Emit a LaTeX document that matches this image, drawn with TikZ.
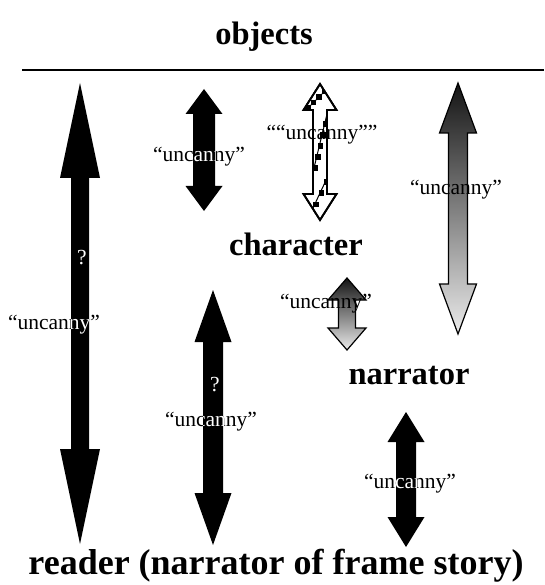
\documentclass[tikz,border=0pt]{standalone}
\usepackage{fontspec}
\setmainfont{Liberation Serif}
\begin{document}
\begin{tikzpicture}[x=1pt,y=-1pt,
  % double-headed block arrow: x, y of top tip, y of bottom tip,
  % head half-width, head length, shaft half-width
  darr/.style n args={6}{insert path={
    (#1,#2) -- ({#1+#4},{#2+#5}) -- ({#1+#6},{#2+#5}) -- ({#1+#6},{#3-#5})
    -- ({#1+#4},{#3-#5}) -- (#1,#3) -- ({#1-#4},{#3-#5}) -- ({#1-#6},{#3-#5})
    -- ({#1-#6},{#2+#5}) -- ({#1-#4},{#2+#5}) -- cycle}},
  title/.style={font=\fontsize{32.5}{36}\selectfont\bfseries, inner sep=0pt},
  lbl/.style={font=\fontsize{21.5}{24}\selectfont, inner sep=0pt},
  solidarrow/.style={fill=black},
  shadearrow/.style={draw=black, line width=1.2pt, top color=black!92, bottom color=black!8},
  checkarrow/.style={draw=black, line width=1.8pt, fill=white},
  cell/.style={fill=black},
  band/.style={line width=1pt},
]
\useasboundingbox (0,0) rectangle (544,585);

% headings
\node[title] (objects) at (264,37) {objects};
\draw[line width=1.6pt] (22,70) coordinate (ruleL) -- (544,70) coordinate (ruleR);
\node[title] (character) at (296,244) {character};
\node[title] (narrator) at (409,376) {narrator};
\node[title, font=\fontsize{36}{40}\selectfont\bfseries] (reader) at (276,566) {reader (narrator of frame story)};

% A: objects -- reader
\fill[solidarrow, darr={80}{83}{544}{20}{95}{9}];
\node[lbl] (lA) at (54,325) {“uncanny”};
\begin{scope}
  \path[clip, darr={80}{83}{544}{20}{95}{9}];
  \node[lbl, text=white] at (54,325) {“uncanny”};
  \node[lbl, text=white] (qA) at (82,258) {?};
\end{scope}

% B: objects -- character
\fill[solidarrow, darr={204}{89}{211}{18.5}{25}{11}];
\node[lbl] (lB) at (199,157) {“uncanny”};
\begin{scope}
  \path[clip, darr={204}{89}{211}{18.5}{25}{11}];
  \node[lbl, text=white] at (199,157) {“uncanny”};
\end{scope}

% C: chequered arrow
\path[checkarrow, darr={320}{84}{220}{16.5}{26}{7}];
\begin{scope}
  \path[clip, darr={320}{84}{220}{16.5}{26}{7}];
  % diagonal bands of chequer cells
  \draw[band] (304,112) -- (330,86);
  \foreach \i in {0,...,4}
    \fill[cell] ({305+\i*5.5},{111-\i*5.5}) rectangle +(5.5,-5.5);
  \draw[band] (313,172) -- (328,110);
  \foreach \i in {0,...,5}
    \fill[cell] ({312.5+\i*2.6},{171-\i*11}) rectangle +(5.5,-5.5);
  \draw[band] (313,208) -- (328,176);
  \foreach \i in {0,...,2}
    \fill[cell] ({313+\i*5.5},{207-\i*11}) rectangle +(5.5,-5.5);
\end{scope}
\path[draw=black, line width=1.8pt, darr={320}{84}{220}{16.5}{26}{7}];
\node[lbl] (lC) at (322,135) {““uncanny””};

% D: objects -- narrator (shaded)
\path[shadearrow, darr={458}{83}{334}{18.5}{50}{9.5}];
\node[lbl] (lD) at (456,190) {“uncanny”};

% E: character -- narrator (shaded)
\path[shadearrow, darr={347}{278}{350}{19}{22}{8.5}];
\node[lbl] (lE) at (326,304) {“uncanny”};

% F: character -- reader
\fill[solidarrow, darr={213}{290}{545}{18.5}{52}{10}];
\node[lbl] (lF) at (211,422) {“uncanny”};
\begin{scope}
  \path[clip, darr={213}{290}{545}{18.5}{52}{10}];
  \node[lbl, text=white] at (211,422) {“uncanny”};
  \node[lbl, text=white] (qF) at (215,385) {?};
\end{scope}

% G: narrator -- reader
\fill[solidarrow, darr={406}{412}{547}{18.5}{30}{10}];
\node[lbl] (lG) at (410,484) {“uncanny”};
\begin{scope}
  \path[clip, darr={406}{412}{547}{18.5}{30}{10}];
  \node[lbl, text=white] at (410,484) {“uncanny”};
\end{scope}
\end{tikzpicture}
\end{document}
